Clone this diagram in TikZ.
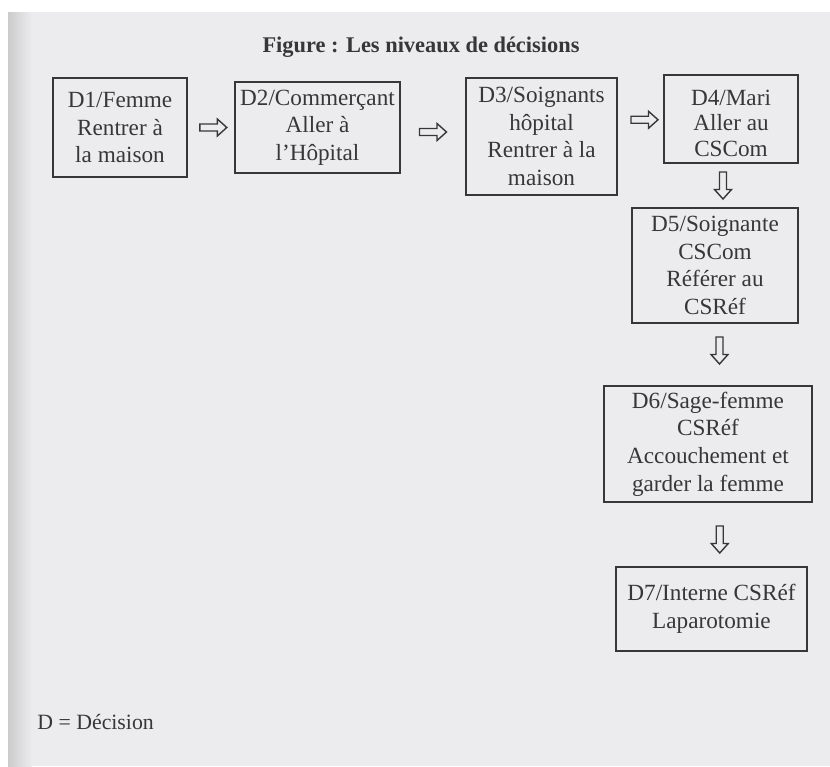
\documentclass[tikz,border=0pt]{standalone}
\usepackage{fontspec}
\setmainfont{Liberation Serif}
\usetikzlibrary{calc}
\definecolor{paper}{RGB}{236,235,238}
\definecolor{ink}{RGB}{55,55,58}
\tikzset{
  box/.style={draw=ink, line width=0.9pt, align=center, text=ink, inner sep=0pt,
    font=\fontsize{11.6}{13.8}\selectfont},
  hollow/.pic={\draw[ink, line width=0.7pt, line join=miter]
     (-13.5,-3.5) -- (4,-3.5) -- (4,-8.5) -- (13.5,0) -- (4,8.5) -- (4,3.5) -- (-13.5,3.5) -- cycle;}
}
\begin{document}
\begin{tikzpicture}[x=0.5pt,y=-0.5pt]
\useasboundingbox (0,0) rectangle (830,766);
\fill[white] (0,0) rectangle (830,766);
\fill[paper] (8,12) rectangle (830,766);
\shade[left color=gray!40, right color=paper] (8,12) rectangle (32,766);

\node[font=\bfseries\fontsize{11.2}{13}\selectfont, text=ink] (title) at (421,47) {Figure : Les niveaux de décisions};

\node[box, minimum width=67pt, minimum height=49.5pt] (d1) at (120,127.5) {D1/Femme\\Rentrer à\\la maison};
\node[box, minimum width=82.5pt, minimum height=45.5pt] (d2) at (317.5,127.5) {D2/Commerçant\\Aller à\\l’Hôpital};
\node[box, minimum width=75.5pt, minimum height=58.5pt] (d3) at (541.5,136.5) {D3/Soignants\\hôpital\\Rentrer à la\\maison};
\node[box, minimum width=67pt, minimum height=44pt, font=\fontsize{11.6}{12.6}\selectfont] (d4) at (731,119) {\rule{0pt}{12pt}D4/Mari\\Aller au\\CSCom};
\node[box, minimum width=83pt, minimum height=57.5pt] (d5) at (715,265.5) {D5/Soignante\\CSCom\\Référer au\\CSRéf};
\node[box, minimum width=104pt, minimum height=58pt] (d6) at (708,444) {D6/Sage-femme\\CSRéf\\Accouchement et\\garder la femme};
\node[box, minimum width=95.5pt, minimum height=42pt] (d7) at (711.5,609) {D7/Interne CSRéf\\Laparotomie};

\path (d1.east) -- (d2.west) pic[pos=0.55] {hollow};
\path (d2.east) -- (d3.west) pic[pos=0.5] {hollow};
\path ($(d3.east)!0.5!(d4.west)$) ++(4,-8) pic {hollow};
\path ($(d4.south)!0.5!(d5.north)$) pic[rotate=-90] {hollow};
\path ($(d5.south)!0.5!(d6.north)$) ++(8,-4) pic[rotate=-90] {hollow};
\path ($(d6.south)!0.5!(d7.north)$) ++(10,5) pic[rotate=-90] {hollow};

\node[anchor=west, text=ink, inner sep=0pt, font=\fontsize{10.9}{13}\selectfont] (legend) at (37,722) {D = Décision};
\end{tikzpicture}
\end{document}
